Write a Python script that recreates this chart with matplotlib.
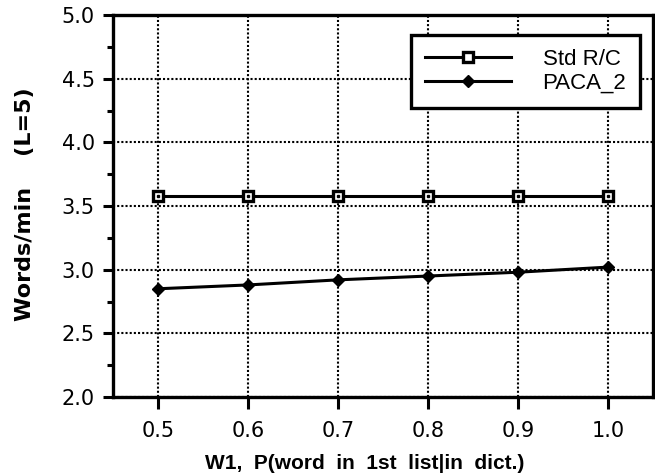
import matplotlib
matplotlib.use("Agg")
import matplotlib.pyplot as plt
from matplotlib.ticker import MultipleLocator
from matplotlib.lines import Line2D

x_vals = [0.5, 0.6, 0.7, 0.8, 0.9, 1.0]
std_rc = [3.58, 3.58, 3.58, 3.58, 3.58, 3.58]
paca_2 = [2.85, 2.88, 2.92, 2.95, 2.98, 3.02]
x_ticks = [0.5, 0.6, 0.7, 0.8, 0.9, 1.0]
x_tick_labels = ["0.5", "0.6", "0.7", "0.8", "0.9", "1.0"]
y_ticks = [2.0, 2.5, 3.0, 3.5, 4.0, 4.5, 5.0]
y_tick_labels = ["2.0", "2.5", "3.0", "3.5", "4.0", "4.5", "5.0"]

plt.rcParams['font.family'] = ['Liberation Sans', 'DejaVu Sans']

fig = plt.figure(figsize=(6.55, 4.76), dpi=100)
ax = fig.add_axes([113/655, 1-397/476, 540/655, 382/476])

ax.set_xlim(0.45, 1.05)
ax.set_ylim(2.0, 5.0)

ax.grid(True, color='black', linestyle=(0, (1, 1)), linewidth=1.5)
ax.set_axisbelow(True)

ax.plot(x_vals, std_rc, color='black', linewidth=2.2, marker='s', markersize=7.8,
        markerfacecolor='white', markeredgecolor='black', markeredgewidth=2.4,
        label='Std R/C', zorder=3)
ax.plot(x_vals, std_rc, linestyle='none', marker='s', markersize=2,
        color='black', zorder=4)
ax.plot(x_vals, paca_2, color='black', linewidth=2.2, marker='D', markersize=6.6,
        markerfacecolor='black', markeredgecolor='black', label='PACA_2', zorder=3)

ax.set_xticks(x_ticks)
ax.set_xticklabels(x_tick_labels, fontfamily='DejaVu Sans')
ax.set_yticks(y_ticks)
ax.set_yticklabels(y_tick_labels, fontfamily='DejaVu Sans')
ax.yaxis.set_minor_locator(MultipleLocator(0.25))

ax.tick_params(axis='both', which='major', direction='out', width=2.2,
               labelsize=15, color='black')
ax.tick_params(axis='x', which='major', length=8.5, pad=9)
ax.tick_params(axis='y', which='major', length=7, pad=6)
ax.tick_params(axis='y', which='minor', direction='out', length=4, width=2.2)

for s in ax.spines.values():
    s.set_linewidth(2.4)
    s.set_color('black')

ax.set_xlabel("W1,  P(word  in  1st  list|in  dict.)", fontsize=15, fontweight='bold')
ax.xaxis.set_label_coords(0.467, -0.15)
ax.set_ylabel("Words/min    (L=5)", fontsize=16, fontweight='bold',
              fontfamily='DejaVu Sans')
ax.yaxis.set_label_coords(-0.145, 0.505)

h1 = Line2D([], [], color='black', linewidth=2.2, marker='s', markersize=7.8,
            markerfacecolor='white', markeredgecolor='black', markeredgewidth=2.4)
h2 = Line2D([], [], color='black', linewidth=2.2, marker='D', markersize=6.6,
            markerfacecolor='black')
leg = ax.legend([h1, h2], ['Std R/C', 'PACA_2'], loc='upper right',
                bbox_to_anchor=(0.976, 0.948), borderaxespad=0,
                fontsize=16, handlelength=3.9, handletextpad=1.4,
                labelspacing=0.15, borderpad=0.62, fancybox=False,
                framealpha=1, edgecolor='black')
leg.get_frame().set_linewidth(2.4)

fig.savefig("out.png", dpi=100)
